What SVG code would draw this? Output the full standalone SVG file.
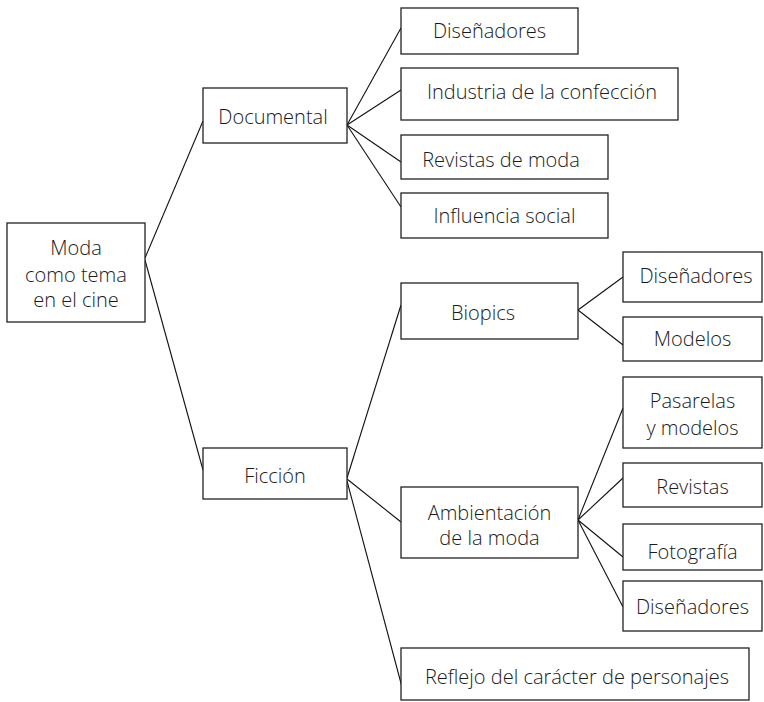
<svg xmlns="http://www.w3.org/2000/svg" width="764" height="702" viewBox="0 0 764 702">
<style>
rect{fill:#fff;stroke:#222;stroke-width:1.3}
text{font-family:"Open Sans","Noto Sans","DejaVu Sans",sans-serif;font-weight:350;font-size:20px;fill:#1a1a1a;text-anchor:middle}
#connectors line{stroke:#111;stroke-width:1.1}
</style>
<rect x="0" y="0" width="764" height="702" style="stroke:none"/>
<g id="connectors">
<line x1="145" y1="258" x2="203" y2="121"/>
<line x1="145" y1="260" x2="203" y2="470"/>
<line x1="347" y1="125" x2="401" y2="28"/>
<line x1="347" y1="125" x2="401" y2="90"/>
<line x1="347" y1="125" x2="401" y2="162"/>
<line x1="347" y1="125" x2="401" y2="207"/>
<line x1="347" y1="478" x2="401" y2="305"/>
<line x1="347" y1="479" x2="401" y2="522"/>
<line x1="347" y1="481" x2="402" y2="687"/>
<line x1="578" y1="310" x2="623" y2="277"/>
<line x1="578" y1="310" x2="623" y2="345"/>
<line x1="578" y1="520" x2="623" y2="408"/>
<line x1="578" y1="520" x2="623" y2="478"/>
<line x1="578" y1="520" x2="623" y2="557"/>
<line x1="578" y1="520" x2="623" y2="607"/>
</g>
<g id="root"><rect x="7" y="223" width="138" height="99"/><text x="76" y="255">Moda</text><text x="76" y="282">como tema</text><text x="76" y="307">en el cine</text></g>
<g id="documental"><rect x="203" y="88" width="144" height="55"/><text x="273" y="124">Documental</text></g>
<g id="ficcion"><rect x="203" y="448" width="144" height="51"/><text x="275" y="483">Ficción</text></g>
<g id="doc-disenadores"><rect x="401" y="8" width="177" height="46"/><text x="489.5" y="38">Diseñadores</text></g>
<g id="doc-industria"><rect x="401" y="68" width="277" height="52"/><text x="542" y="99">Industria de la confección</text></g>
<g id="doc-revistas"><rect x="401" y="135" width="207" height="44"/><text x="501" y="167">Revistas de moda</text></g>
<g id="doc-influencia"><rect x="401" y="193" width="207" height="45"/><text x="504.5" y="223">Influencia social</text></g>
<g id="biopics"><rect x="401" y="283" width="177" height="56"/><text x="483" y="320">Biopics</text></g>
<g id="bio-disenadores"><rect x="623" y="252" width="139" height="50"/><text x="696" y="283">Diseñadores</text></g>
<g id="bio-modelos"><rect x="623" y="317" width="139" height="44"/><text x="692.5" y="346">Modelos</text></g>
<g id="ambientacion"><rect x="401" y="487" width="177" height="71"/><text x="489.5" y="520">Ambientación</text><text x="489.5" y="545">de la moda</text></g>
<g id="amb-pasarelas"><rect x="623" y="377" width="139" height="71"/><text x="692.5" y="408">Pasarelas</text><text x="692.5" y="435">y modelos</text></g>
<g id="amb-revistas"><rect x="623" y="463" width="139" height="44"/><text x="692.5" y="494">Revistas</text></g>
<g id="amb-fotografia"><rect x="623" y="524" width="139" height="46"/><text x="692.5" y="559">Fotografía</text></g>
<g id="amb-disenadores"><rect x="623" y="581" width="139" height="50"/><text x="692.5" y="614">Diseñadores</text></g>
<g id="reflejo"><rect x="401" y="648" width="348" height="52"/><text x="577" y="684">Reflejo del carácter de personajes</text></g>
</svg>
